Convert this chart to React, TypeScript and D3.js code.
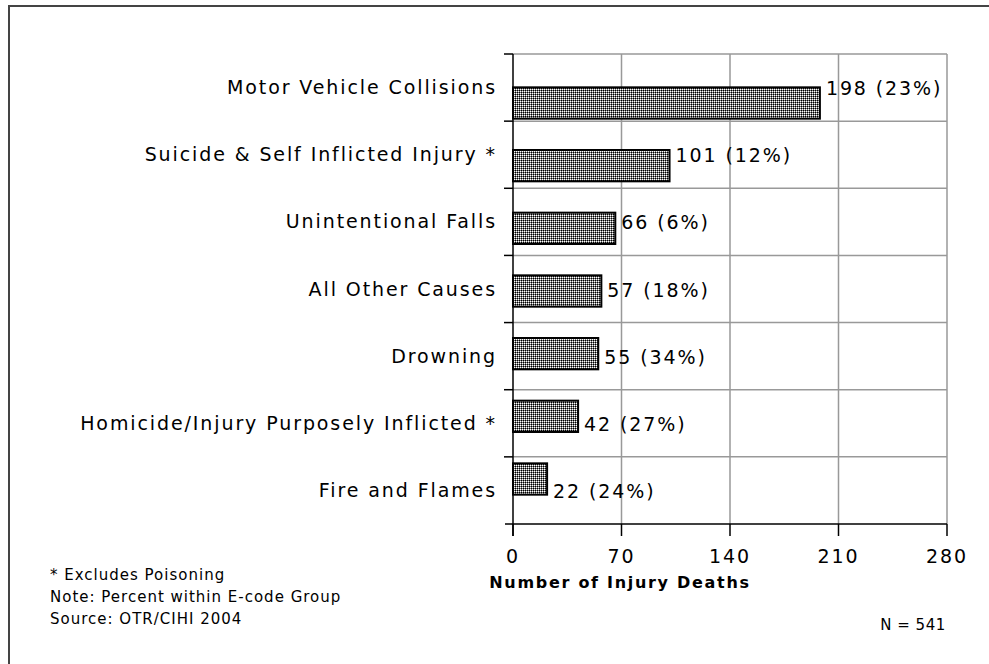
import React from "react";
import * as d3 from "d3";

const categories = [
  "Motor Vehicle Collisions",
  "Suicide & Self Inflicted Injury *",
  "Unintentional Falls",
  "All Other Causes",
  "Drowning",
  "Homicide/Injury Purposely Inflicted *",
  "Fire and Flames",
];
const deaths = [198, 101, 66, 57, 55, 42, 22];
const percents = [23, 12, 6, 18, 34, 27, 24];
const xTicks = [0, 70, 140, 210, 280];
const notes = [
  "* Excludes Poisoning",
  "Note: Percent within E-code Group",
  "Source: OTR/CIHI 2004",
];

const W = 989;
const H = 664;
const L = 513, R = 947, T = 54, B = 524;
const FONT = "'DejaVu Sans', Verdana, sans-serif";

export default function App() {
  const x = d3.scaleLinear().domain([0, 280]).range([L, R]);
  const y = d3.scaleBand<string>().domain(categories).range([T, B]).padding(0.5);
  const rowY = d3.scaleBand<string>().domain(categories).range([T, B]);
  const step = rowY.step();
  const bounds = d3.range(categories.length + 1).map((i) => T + i * step);

  const blacks = [[0, 0], [2, 2], [0, 2], [2, 0]];
  const grays = [[1, 0], [0, 1], [3, 2], [2, 3], [1, 2], [2, 1], [3, 0], [0, 3]];

  return (
    <svg width={W} height={H} style={{ position: "absolute", left: 0, top: 0, background: "#fff" }}>
      <defs>
        <pattern id="hatch" width={4} height={4} patternUnits="userSpaceOnUse" x={L} y={0}>
          <rect width={4} height={4} fill="#fff" />
          {blacks.map(([px, py], i) => (
            <rect key={"b" + i} x={px} y={py} width={1} height={1} fill="#000" />
          ))}
          {grays.map(([px, py], i) => (
            <rect key={"g" + i} x={px} y={py} width={1} height={1} fill="#777" />
          ))}
        </pattern>
        <clipPath id="noteclip">
          <rect x={0} y={0} width={349} height={H} />
        </clipPath>
      </defs>
      <rect x={9} y={6} width={W + 10} height={H + 10} fill="none" stroke="#444" strokeWidth={2} />

      {/* grid */}
      {xTicks.slice(1).map((t) => (
        <line key={"gx" + t} x1={x(t)} x2={x(t)} y1={T} y2={B} stroke="#999" strokeWidth={1.5} />
      ))}
      {bounds.slice(0, -1).map((b, i) => (
        <line key={"gy" + i} x1={L} x2={R} y1={b} y2={b} stroke="#999" strokeWidth={1.5} />
      ))}

      {/* bars */}
      {categories.map((c, i) => (
        <g key={c}>
          <rect
            x={x(0)}
            y={(y(c) as number) + 2}
            width={x(deaths[i]) - x(0)}
            height={y.bandwidth()}
            fill="url(#hatch)"
            stroke="#000"
            strokeWidth={2}
          />
          <text
            x={x(deaths[i]) + 6}
            y={(rowY(c) as number) + step / 2 + 2}
            dominantBaseline="middle"
            fontFamily={FONT}
            fontSize={19}
            letterSpacing={1.9}
            fill="#000"
          >
            {`${deaths[i]} (${percents[i]}%)`}
          </text>
          <text
            x={497}
            y={(rowY(c) as number) + step / 2 + 1}
            dominantBaseline="middle"
            textAnchor="end"
            fontFamily={FONT}
            fontSize={19}
            letterSpacing={1.9}
            fill="#000"
          >
            {c}
          </text>
        </g>
      ))}

      {/* axes */}
      <line x1={L} x2={L} y1={T} y2={B + 12} stroke="#000" strokeWidth={1.5} />
      <line x1={L - 8} x2={R} y1={B} y2={B} stroke="#000" strokeWidth={1.5} />
      {bounds.slice(0, -1).map((b, i) => (
        <line key={"ty" + i} x1={L - 9} x2={L} y1={b} y2={b} stroke="#000" strokeWidth={1.5} />
      ))}
      {xTicks.map((t) => (
        <g key={"tx" + t}>
          <line x1={x(t)} x2={x(t)} y1={B} y2={B + 12} stroke="#000" strokeWidth={1.5} />
          <text x={x(t)} y={557} textAnchor="middle" dominantBaseline="middle" fontFamily={FONT} fontSize={19} letterSpacing={1.9} fill="#000">
            {t}
          </text>
        </g>
      ))}

      <text x={620} y={583} textAnchor="middle" dominantBaseline="middle" fontFamily={FONT} fontSize={16} fontWeight="bold" letterSpacing={1.7} fill="#000">
        Number of Injury Deaths
      </text>
      <text x={913} y={625} textAnchor="middle" dominantBaseline="middle" fontFamily={FONT} fontSize={15} letterSpacing={0.5} fill="#000">
        N = 541
      </text>
      <g clipPath="url(#noteclip)">
        {notes.map((n, i) => (
          <text key={n} x={50} y={575 + i * 22} dominantBaseline="middle" fontFamily={FONT} fontSize={15} letterSpacing={1.0} fill="#000">
            {n}
          </text>
        ))}
      </g>
    </svg>
  );
}
